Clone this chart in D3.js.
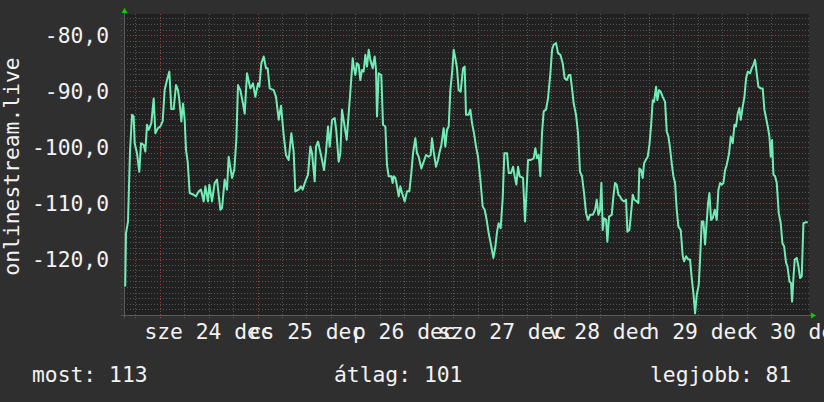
<!DOCTYPE html>
<html><head><meta charset="utf-8">
<script src="https://cdn.jsdelivr.net/npm/d3@7"></script>
<style>
html,body{margin:0;padding:0;background:#2f2f2f;}
svg{display:block;}
text{font-family:"DejaVu Sans Mono",monospace;font-size:21.33px;fill:#f2f2f2;}
</style></head>
<body>
<script>
// ---- data (hours since 2014-12-23 15:15, values) ----
const hours = [0.3,0.49,0.98,1.47,1.96,2.37,2.62,3.19,3.76,4.17,4.82,5.23,5.64,6.05,6.70,7.28,7.69,8.34,8.91,9.48,9.97,10.55,11.12,11.61,12.18,12.75,13.24,13.57,14.06,14.47,14.88,15.21,15.62,16.11,17.09,17.66,18.31,18.89,19.54,19.95,20.60,20.93,21.58,22.24,22.81,23.63,24.04,24.69,25.26,25.67,26.49,27.06,27.55,27.96,28.53,29.10,29.60,30.17,30.99,31.64,32.21,32.87,33.19,33.68,34.26,34.83,35.24,35.73,36.71,37.28,37.94,38.51,39.16,39.73,40.39,41.04,41.61,42.02,42.84,43.41,43.82,44.48,45.13,45.70,46.11,46.77,47.09,47.58,48.40,49.06,49.55,50.04,50.45,51.02,51.67,52.08,52.65,53.06,53.47,54.62,55.60,56.09,
56.33,56.74,57.15,57.56,57.96,58.37,58.78,59.19,59.60,60.01,60.42,60.99,61.48,61.81,62.05,62.46,63.11,63.52,64.10,64.50,64.91,65.57,65.89,66.14,66.55,66.96,67.37,67.77,68.18,68.84,69.41,69.98,70.47,70.88,71.45,71.86,72.27,72.93,73.50,74.07,74.72,75.21,75.54,75.95,76.52,77.01,77.34,77.83,78.40,78.81,79.22,79.63,80.04,80.45,80.86,81.27,81.67,82.08,82.57,83.15,83.55,83.88,84.54,84.94,85.35,85.84,86.33,86.82,87.40,87.97,88.46,88.95,89.44,90.10,90.59,91.08,91.49,91.89,92.38,92.88,93.28,93.94,94.35,94.92,95.41,95.82,96.23,96.64,97.04,97.86,98.35,98.68,99.09,99.66,100.48,100.89,101.30,101.71,102.11,102.52,102.93,103.50,103.99,104.57,104.98,105.38,105.96,106.45,107.02,107.59,108.08,108.65,109.06,109.47,109.88,110.29,110.86,111.35,111.84,112.33,
112.83,113.32,113.81,114.30,114.96,115.53,115.94,116.35,116.76,117.08,117.41,117.74,118.23,118.55,118.96,119.62,120.03,120.43,120.84,121.25,121.66,122.07,122.64,123.13,123.46,123.95,124.28,124.77,125.18,125.75,126.16,126.40,126.81,127.22,127.55,127.96,128.45,128.86,129.26,129.67,130.00,130.49,130.82,131.23,131.64,132.13,132.70,133.11,133.52,133.93,134.33,134.74,135.15,135.56,135.97,136.54,137.03,137.36,137.85,138.42,138.83,139.24,139.65,140.06,140.47,140.96,141.28,141.69,142.10,142.51,142.92,143.25,143.57,143.98,144.39,144.88,145.37,145.78,146.19,146.60,147.01,147.42,147.82,148.40,148.81,149.30,149.71,150.11,150.52,150.93,151.26,151.75,152.16,152.57,152.98,153.55,153.96,154.37,154.77,155.18,155.59,156.16,156.65,157.06,157.47,157.88,158.29,158.62,158.94,159.27,159.68,160.09,160.58,161.07,161.48,161.89,162.38,162.71,163.20,163.60,163.85,164.18,164.50,164.99,165.40,165.81,166.22,166.63,167.28,167.69];
const values = [-124.9,-115.4,-113.3,-100.8,-94.2,-94.5,-99.3,-101.1,-104.4,-99.3,-99.6,-100.8,-96.0,-96.9,-95.7,-91.3,-97.5,-96.6,-96.3,-95.4,-89.8,-88.0,-86.5,-93.2,-93.2,-88.9,-89.8,-91.6,-95.4,-92.2,-95.1,-100.5,-102.6,-108.2,-108.5,-108.8,-107.9,-107.6,-109.7,-107.0,-109.7,-106.7,-109.7,-106.4,-105.8,-111.2,-110.9,-105.8,-107.6,-101.7,-105.5,-104.0,-98.7,-88.9,-89.8,-91.9,-94.0,-86.8,-89.5,-88.6,-91.0,-88.6,-89.2,-85.0,-83.8,-85.9,-85.9,-89.5,-89.8,-91.0,-95.1,-92.6,-97.8,-101.4,-102.3,-97.5,-100.8,-107.9,-107.6,-107.0,-107.6,-106.1,-104.9,-99.9,-101.1,-106.1,-99.9,-99.0,-101.7,-104.1,-100.8,-96.3,-99.9,-95.1,-94.8,-97.2,-102.6,-101.1,-93.3,-98.7,-89.2,-84.1,
-85.6,-87.1,-85.0,-85.3,-88.0,-86.2,-86.5,-83.5,-85.6,-82.6,-84.4,-85.9,-83.8,-86.2,-94.5,-86.8,-87.1,-96.0,-96.3,-103.2,-105.2,-105.2,-106.4,-105.2,-105.5,-107.0,-108.8,-107.0,-108.2,-109.7,-107.9,-107.9,-104.6,-101.1,-98.4,-101.1,-101.7,-103.8,-102.6,-101.4,-101.7,-101.4,-98.4,-100.8,-103.5,-102.3,-101.1,-99.6,-96.6,-99.9,-96.9,-96.3,-89.8,-86.8,-82.6,-84.1,-85.9,-89.8,-90.1,-85.9,-85.6,-94.2,-94.2,-93.3,-95.7,-97.5,-99.9,-101.7,-105.8,-110.6,-111.2,-113.0,-115.4,-117.8,-119.8,-117.8,-115.1,-113.6,-114.5,-109.1,-101.1,-101.1,-104.6,-104.6,-103.5,-105.2,-106.7,-103.5,-105.2,-105.5,-113.3,-108.5,-102.3,-102.3,-102.0,-100.2,-102.0,-101.4,-105.2,-97.5,-93.6,-93.3,-91.3,-86.8,-82.6,-81.7,-81.4,-83.2,-83.5,-85.0,-87.7,-88.0,-87.1,-87.1,-89.5,-92.2,-94.2,-97.5,-104.4,-105.2,
-108.2,-111.8,-113.0,-112.1,-112.1,-111.2,-109.4,-112.1,-111.2,-106.4,-114.8,-112.7,-113.0,-116.9,-112.4,-112.1,-108.8,-106.4,-106.7,-108.5,-108.8,-109.4,-109.7,-109.4,-115.1,-114.8,-112.4,-108.5,-109.4,-109.7,-110.0,-103.8,-104.1,-105.5,-102.9,-102.3,-101.7,-99.6,-96.3,-91.6,-91.9,-89.2,-91.6,-89.8,-90.1,-91.0,-91.9,-97.2,-98.1,-100.2,-102.9,-105.2,-106.4,-111.2,-114.2,-114.8,-119.5,-120.4,-119.5,-120.1,-120.1,-123.4,-126.1,-129.7,-126.4,-124.6,-120.1,-113.3,-113.3,-117.4,-113.3,-110.0,-108.2,-113.0,-112.7,-111.2,-113.0,-107.6,-106.4,-106.7,-106.4,-104.1,-103.2,-101.1,-98.1,-99.3,-96.0,-96.3,-94.0,-93.0,-95.1,-92.7,-91.0,-87.7,-86.5,-86.8,-85.9,-85.3,-84.4,-86.8,-89.2,-89.5,-89.5,-93.3,-94.8,-96.3,-98.1,-101.7,-98.7,-104.9,-105.2,-106.4,-111.8,-113.6,-117.2,-117.7,-120.7,-121.3,-124.0,-124.3,-127.6,-123.4,-120.1,-119.8,-121.3,-123.4,-123.1,-113.6,-113.4,-113.4];
const yTicks = [-80,-90,-100,-110,-120];
const yTitle = "onlinestream.live";
const legendLabels = ["most","átlag","legjobb"];
const legendValues = [113,101,81];

const W=824,H=402;
const plot={l:124,r:809,t:14,b:315};
const start=new Date(2014,11,23,15,15), end=new Date(2014,11,30,15,15);

const svg=d3.select("body").append("svg").attr("width",W).attr("height",H);
svg.append("rect").attr("width",W).attr("height",H).attr("fill","#2f2f2f");
svg.append("rect").attr("x",plot.l).attr("y",plot.t).attr("width",plot.r-plot.l).attr("height",plot.b-plot.t).attr("fill","#212121");

const x=d3.scaleTime().domain([start,end]).range([plot.l,plot.r]);
const y=d3.scaleLinear().domain([-130,-76.2]).range([plot.b,plot.t]);

const huLoc=d3.timeFormatLocale({dateTime:"%Y. %B %d. %X",date:"%Y. %m. %d.",time:"%H:%M:%S",periods:["de.","du."],
 days:["vasárnap","hétfő","kedd","szerda","csütörtök","péntek","szombat"],
 shortDays:["v","h","k","sze","cs","p","szo"],
 months:["január","február","március","április","május","június","július","augusztus","szeptember","október","november","december"],
 shortMonths:["jan","febr","márc","ápr","máj","jún","júl","aug","szept","okt","nov","dec"]});
const fmtDay=huLoc.format("%a %d %b");
const numLoc=d3.formatLocale({decimal:",",thousands:" ",grouping:[3],currency:["","Ft"],minus:"-"});
const fmtY=numLoc.format(".1f");

const g=svg.append("g");
const minorCol="#555555", majorCol="#9a4040";
// minor y grid
d3.range(-129,-76,1).filter(v=>v%10!==0).forEach(v=>{
  g.append("line").attr("x1",plot.l-3).attr("x2",plot.r).attr("y1",Math.round(y(v))+0.5).attr("y2",Math.round(y(v))+0.5)
   .attr("stroke",minorCol).attr("stroke-dasharray","1,2");
});
// minor x grid (every 6 hours)
const sixHours=d3.range(0,7*4+2).map(i=>d3.timeHour.offset(d3.timeDay.floor(start),i*6)).filter(d=>d>start&&d<end&&d.getHours()!==0);
sixHours.forEach(d=>{
  g.append("line").attr("x1",Math.round(x(d))+0.5).attr("x2",Math.round(x(d))+0.5).attr("y1",plot.t).attr("y2",plot.b+3)
   .attr("stroke",minorCol).attr("stroke-dasharray","1,2");
});
// major y grid
yTicks.forEach(v=>{
  g.append("line").attr("x1",plot.l-3).attr("x2",plot.r).attr("y1",Math.round(y(v))+0.5).attr("y2",Math.round(y(v))+0.5)
   .attr("stroke",majorCol).attr("stroke-dasharray","1,2");
});
// major x grid (midnights)
const midnights=d3.range(1,8).map(i=>d3.timeDay.offset(d3.timeDay.floor(start),i)).filter(d=>d<end);
midnights.forEach(d=>{
  g.append("line").attr("x1",Math.round(x(d))+0.5).attr("x2",Math.round(x(d))+0.5).attr("y1",plot.t).attr("y2",plot.b+3)
   .attr("stroke",majorCol).attr("stroke-dasharray","1,2");
});

// axes lines
svg.append("line").attr("x1",plot.l-3).attr("x2",plot.r+2).attr("y1",plot.b+0.5).attr("y2",plot.b+0.5).attr("stroke","#5a5a5a");
svg.append("line").attr("x1",plot.l+0.5).attr("x2",plot.l+0.5).attr("y1",plot.t-2).attr("y2",plot.b+3).attr("stroke","#5a5a5a");
// arrows
svg.append("path").attr("d",`M${plot.l-2.5},${plot.t-1}L${plot.l+3.5},${plot.t-1}L${plot.l+0.5},${plot.t-6}Z`).attr("fill","#00d400");
svg.append("path").attr("d",`M${plot.r+2},${plot.b-2.5}L${plot.r+2},${plot.b+3.5}L${plot.r+7},${plot.b+0.5}Z`).attr("fill","#00d400");

// y labels
yTicks.forEach(v=>{
  svg.append("text").attr("x",109).attr("y",y(v)+7.8).attr("text-anchor","end").text(fmtY(v));
});
// x labels centred at noon
midnights.map(d=>d3.timeHour.offset(d,12)).filter(d=>d>=start&&d<=end).forEach(d=>{
  svg.append("text").attr("x",x(d)).attr("y",338.5).attr("text-anchor","middle").text(fmtDay(d));
});
// y title
svg.append("text").attr("transform","translate(18.5,166.5) rotate(-90)").attr("text-anchor","middle").text(yTitle);

// data line
const data=hours.map((h,i)=>({d:new Date(start.getTime()+h*3600000),v:values[i]}));
svg.append("path").datum(data).attr("fill","none").attr("stroke","#72ecb6").attr("stroke-width",2)
  .attr("stroke-linejoin","round")
  .attr("d",d3.line().x(p=>x(p.d)).y(p=>y(p.v)));

// legend
const legX=[32,334,650];
legendLabels.forEach((l,i)=>{
  svg.append("text").attr("x",legX[i]).attr("y",381.5).text(l+": "+legendValues[i]);
});
</script>
</body></html>
